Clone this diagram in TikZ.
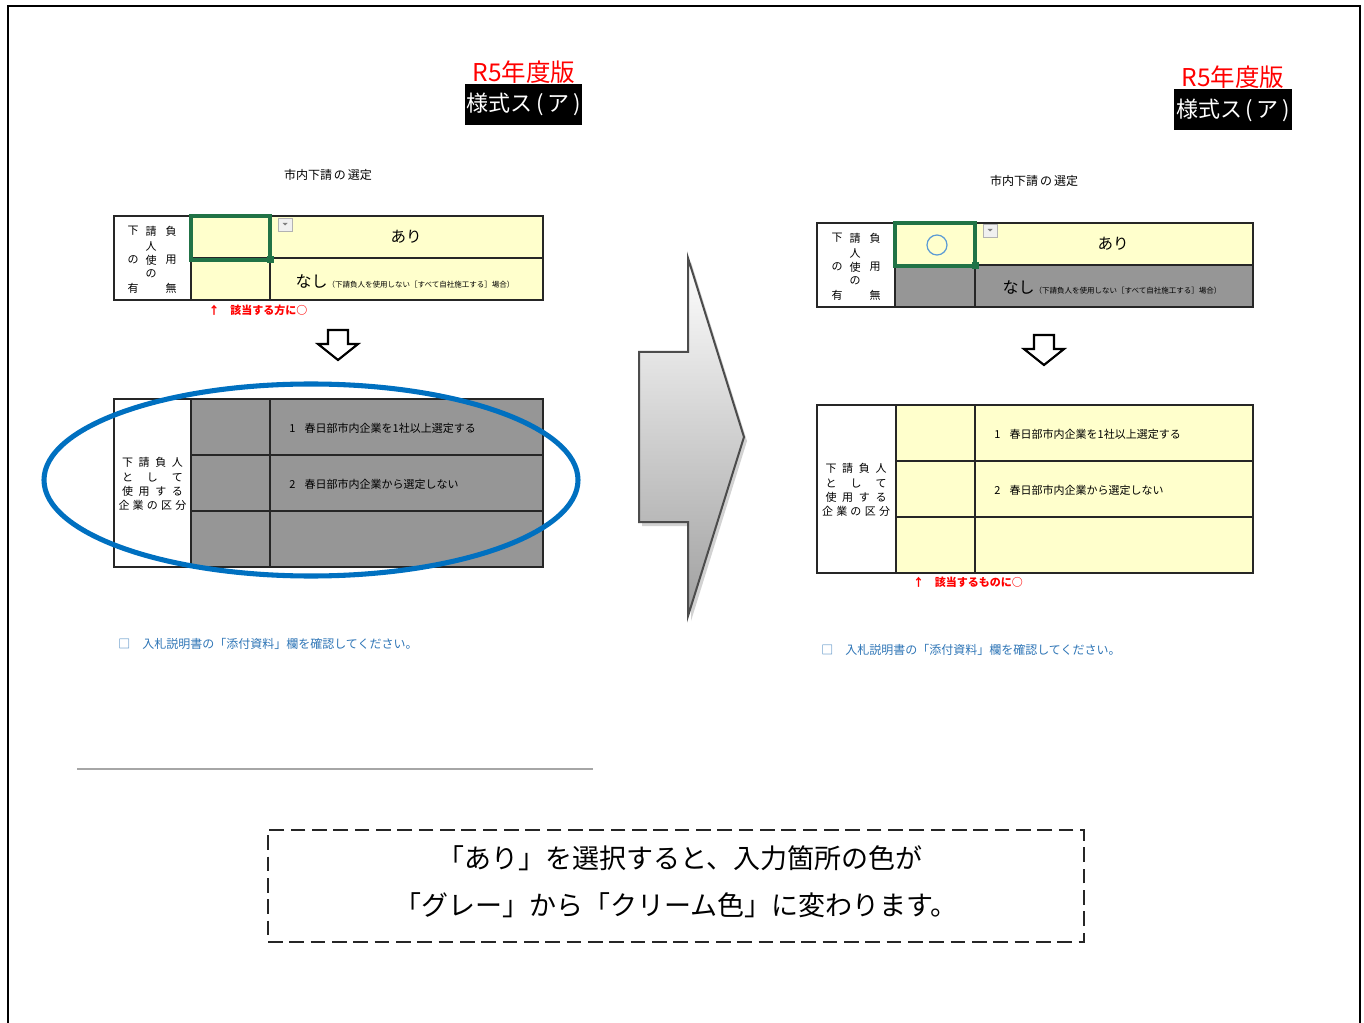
\documentclass[tikz,border=0pt]{standalone}
\usepackage{fontspec}
\setmainfont{Noto Sans CJK JP}
\definecolor{cream}{HTML}{FFFFCC}
\definecolor{cellgray}{HTML}{969696}
\definecolor{selgreen}{HTML}{217346}
\definecolor{ovalblue}{HTML}{0070C0}
\definecolor{noteblue}{HTML}{2E75B6}
\definecolor{circblue}{HTML}{5B9BD5}
\newcommand\pxs[1]{\fontsize{\fpeval{#1*0.75}pt}{\fpeval{#1*0.9}pt}\selectfont}
\tikzset{
  grid/.style={draw=black!85, line width=1pt},
  sel/.style={draw=selgreen, line width=2.3pt},
  redtitle/.style={text=red, font=\pxs{24.5}, inner sep=0pt},
  formbox/.style={fill=black, text=white, font=\pxs{22}, minimum width=87.75pt, minimum height=30.75pt, inner sep=0pt},
  caption/.style={font=\pxs{12}, inner sep=0pt},
  cell/.style={font=\pxs{11}, inner sep=0pt},
  lbl/.style={font=\pxs{11}, inner sep=0pt},
  redmark/.style={text=red, font=\bfseries\pxs{11}, inner sep=0pt},
  note/.style={text=noteblue, font=\pxs{12}, inner sep=0pt, anchor=west},
  ddbtn/.style={draw=gray!60, fill=gray!12, line width=0.5pt},
  downarrow/.style={draw=black, line width=1.6pt, fill=white, line join=miter},
  bigtxt/.style={font=\pxs{27}, inner sep=0pt},
}
\begin{document}
\begin{tikzpicture}[x=0.75pt,y=-0.75pt]
\useasboundingbox (0,0) rectangle (1364,1023);
% outer frame
\draw[line width=1.5pt] (8,1030) -- (8,6) -- (1360,6) -- (1360,1030);

% ================= LEFT PANEL =================
\node[redtitle] (titleL) at (524,72) {R5年度版};
\node[formbox] (formL) at (523.5,104.5) {様式ス\,(\,ア\,)};
\node[caption] (capL) at (328,175) {市内下請\,の\,選定};

% table 1 left
\fill[white] (114,216) rectangle (191,300);
\fill[cream] (191,216) rectangle (543,300);
\draw[grid] (114,216) rectangle (543,300);
\draw[grid] (191,216) -- (191,300);
\draw[grid] (270,216) -- (270,300);
\draw[grid] (191,258) -- (543,258);
\draw[sel] (191,216) rectangle (270,260);
\fill[selgreen] (267,256) rectangle (274,263);
\draw[ddbtn] (278,218) rectangle (292,231);
\fill[gray] (282.5,223) -- (287.5,223) -- (285,225.5) -- cycle;
\node[cell, font=\pxs{15.5}] (ariL) at (406,237) {あり};
\node[cell] (nashiL) at (405,281) {{\pxs{16}なし}{\pxs{7.5}（下請負人を使用しない［すべて自社施工する］場合）}};
\begin{scope}[shift={(114,216)}]
  \node[lbl] (la1) at (19,15) {下}; \node[lbl] (la2) at (37,15) {請}; \node[lbl] (la3) at (57,15) {負};
  \node[lbl] (la4) at (37,30) {人};
  \node[lbl] (la5) at (19,44) {の}; \node[lbl] (la6) at (37,44) {使}; \node[lbl] (la7) at (57,44) {用};
  \node[lbl] (la8) at (37,58) {の};
  \node[lbl] (la9) at (19,72) {有}; \node[lbl] (la10) at (57,72) {無};
\end{scope}
\node[redmark] (markL) at (258,310) {↑\hspace{8pt}該当する方に○};

% down arrow left
\draw[downarrow] (328,330) -- (348,330) -- (348,344) -- (358,344) -- (338,360) -- (318,344) -- (328,344) -- cycle;

% table 2 left
\fill[white] (114,399) rectangle (191,567);
\fill[cellgray] (191,399) rectangle (543,567);
\draw[grid] (114,399) rectangle (543,567);
\draw[grid] (191,399) -- (191,567);
\draw[grid] (270,399) -- (270,567);
\draw[grid] (191,455) -- (543,455);
\draw[grid] (191,511) -- (543,511);
\node[cell, anchor=west] (opt1L) at (289,428) {1\hspace{7pt}春日部市内企業を1社以上選定する};
\node[cell, anchor=west] (opt2L) at (289,484) {2\hspace{7pt}春日部市内企業から選定しない};
\node[lbl] (lb1) at (152.5,462) {\makebox[45.75pt][s]{下\hfill 請\hfill 負\hfill 人}};
\node[lbl] (lb2) at (152.5,477) {\makebox[45.75pt][s]{と\hfill し\hfill て}};
\node[lbl] (lb3) at (152.5,491) {\makebox[45.75pt][s]{使\hfill 用\hfill す\hfill る}};
\node[lbl] (lb4) at (152.5,505) {\makebox[51pt][s]{企\hfill 業\hfill の\hfill 区\hfill 分}};

% blue oval
\draw[ovalblue, line width=3.8pt] (311,480) ellipse [x radius=200.25pt, y radius=72pt];

\node[note] (noteL) at (118,644) {□\hspace{9pt}入札説明書の「添付資料」欄を確認してください。};

% separator
\draw[gray!70, line width=1.2pt] (77,769) -- (593,769);

% ================= BIG ARROW =================
\fill[gray!35] (642,356) -- (691,356) -- (691,262) -- (747,441) -- (691,621) -- (691,526) -- (642,526) -- cycle;
\shade[top color=white, bottom color=gray!75, draw=gray!60!black, line width=1.5pt, line join=miter]
  (639,352) -- (688,352) -- (688,258) -- (744,437) -- (688,616) -- (688,522) -- (639,522) -- cycle;

% ================= RIGHT PANEL =================
\node[redtitle] (titleR) at (1233,77) {R5年度版};
\node[formbox, minimum width=88.5pt] (formR) at (1233,110) {様式ス\,(\,ア\,)};
\node[caption] (capR) at (1034,181) {市内下請\,の\,選定};

% table 1 right
\fill[white] (817,223) rectangle (895,307);
\fill[cream] (895,223) rectangle (1253,265);
\fill[cellgray] (895,265) rectangle (1253,307);
\draw[grid] (817,223) rectangle (1253,307);
\draw[grid] (895,223) -- (895,307);
\draw[grid] (975,223) -- (975,307);
\draw[grid] (895,265) -- (1253,265);
\draw[sel] (895,223) rectangle (975,266);
\fill[selgreen] (972,262) rectangle (979,269);
\draw[ddbtn] (983,224) rectangle (997,237);
\fill[gray] (987.5,229) -- (992.5,229) -- (990,231.5) -- cycle;
\draw[circblue, line width=0.9pt] (937,245) circle [radius=7.5pt];
\node[cell, font=\pxs{15.5}] (ariR) at (1113,244) {あり};
\node[cell] (nashiR) at (1112,287) {{\pxs{16}なし}{\pxs{7.5}（下請負人を使用しない［すべて自社施工する］場合）}};
\begin{scope}[shift={(817,223)}]
  \node[lbl] (ra1) at (20,15) {下}; \node[lbl] (ra2) at (38,15) {請}; \node[lbl] (ra3) at (58,15) {負};
  \node[lbl] (ra4) at (38,30) {人};
  \node[lbl] (ra5) at (20,44) {の}; \node[lbl] (ra6) at (38,44) {使}; \node[lbl] (ra7) at (58,44) {用};
  \node[lbl] (ra8) at (38,58) {の};
  \node[lbl] (ra9) at (20,72) {有}; \node[lbl] (ra10) at (58,72) {無};
\end{scope}

% down arrow right
\draw[downarrow] (1034,335) -- (1054,335) -- (1054,349) -- (1064,349) -- (1044,365) -- (1024,349) -- (1034,349) -- cycle;

% table 2 right
\fill[white] (817,405) rectangle (896,573);
\fill[cream] (896,405) rectangle (1253,573);
\draw[grid] (817,405) rectangle (1253,573);
\draw[grid] (896,405) -- (896,573);
\draw[grid] (975,405) -- (975,573);
\draw[grid] (896,461) -- (1253,461);
\draw[grid] (896,517) -- (1253,517);
\node[cell, anchor=west] (opt1R) at (994,434) {1\hspace{7pt}春日部市内企業を1社以上選定する};
\node[cell, anchor=west] (opt2R) at (994,490) {2\hspace{7pt}春日部市内企業から選定しない};
\node[lbl] (rb1) at (856,468) {\makebox[45.75pt][s]{下\hfill 請\hfill 負\hfill 人}};
\node[lbl] (rb2) at (856,483) {\makebox[45.75pt][s]{と\hfill し\hfill て}};
\node[lbl] (rb3) at (856,497) {\makebox[45.75pt][s]{使\hfill 用\hfill す\hfill る}};
\node[lbl] (rb4) at (856,511) {\makebox[51pt][s]{企\hfill 業\hfill の\hfill 区\hfill 分}};
\node[redmark] (markR) at (968,582) {↑\hspace{8pt}該当するものに○};

\node[note] (noteR) at (821,650) {□\hspace{9pt}入札説明書の「添付資料」欄を確認してください。};

% ================= BOTTOM NOTE =================
\node[draw=black!85, line width=1.4pt, dash pattern=on 11pt off 5pt, minimum width=612pt, minimum height=84pt, inner sep=0pt] (notebox) at (676,886) {};
\node[bigtxt] (line1) at (680,858) {「あり」を選択すると、入力箇所の色が};
\node[bigtxt] (line2) at (676,905) {「グレー」から「クリーム色」に変わります。};
\end{tikzpicture}
\end{document}
